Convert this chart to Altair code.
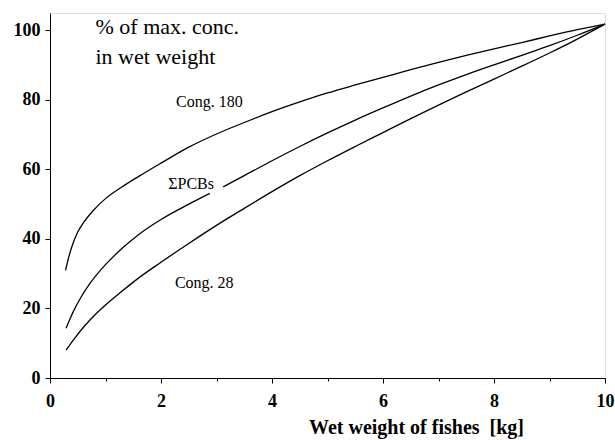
import altair as alt
import pandas as pd

# Cong. 180 (upper curve)
x_c180 = [0.28, 0.35, 0.42, 0.5, 0.6, 0.78, 1.0, 1.3, 1.6, 2.0, 2.5, 3.0, 3.5, 4.0, 4.5, 5.0, 5.5, 6.0, 6.5, 7.0, 7.5, 8.0, 8.5, 9.0, 9.5, 10.0]
y_c180 = [31.0, 35.5, 39.0, 42.0, 44.6, 48.2, 51.6, 55.0, 58.0, 61.8, 66.4, 70.2, 73.5, 76.6, 79.4, 82.0, 84.3, 86.5, 88.7, 90.8, 92.8, 94.7, 96.5, 98.4, 100.2, 101.8]

# Sum of PCBs (middle curve), interrupted under its label
x_pcb_a = [0.29, 0.35, 0.42, 0.55, 0.72, 1.0, 1.3, 1.6, 2.0, 2.5, 2.88]
y_pcb_a = [14.3, 16.6, 19.1, 23.0, 27.2, 32.6, 37.3, 41.3, 45.6, 50.0, 53.1]
x_pcb_b = [3.12, 3.5, 4.0, 4.5, 5.0, 5.5, 6.0, 6.5, 7.0, 7.5, 8.0, 8.5, 9.0, 9.5, 10.0]
y_pcb_b = [55.0, 58.2, 62.5, 66.6, 70.5, 74.2, 77.7, 81.1, 84.3, 87.3, 90.1, 92.8, 95.6, 98.6, 101.8]

# Cong. 28 (lower curve)
x_c28 = [0.29, 0.42, 0.55, 0.72, 1.0, 1.3, 1.6, 2.0, 2.5, 3.0, 3.5, 4.0, 4.5, 5.0, 5.5, 6.0, 6.5, 7.0, 7.5, 8.0, 8.5, 9.0, 9.5, 10.0]
y_c28 = [8.0, 10.9, 13.6, 16.7, 21.0, 25.0, 28.8, 33.3, 38.7, 43.9, 48.8, 53.6, 58.2, 62.5, 66.6, 70.6, 74.6, 78.5, 82.3, 86.0, 89.7, 93.5, 97.5, 101.8]

# curve labels
label_text = ["Cong. 180", "\u03a3PCBs", "Cong. 28"]
label_x = [2.27, 2.13, 2.25]
label_y = [77.9, 54.3, 25.9]
label_size = [16, 16, 16]

x_ticks = list(range(0, 11))
y_ticks = list(range(0, 101, 10))

rows = []
for seg, xs, ys in [("c180", x_c180, y_c180), ("pcb_a", x_pcb_a, y_pcb_a),
                    ("pcb_b", x_pcb_b, y_pcb_b), ("c28", x_c28, y_c28)]:
    for xv, yv in zip(xs, ys):
        rows.append({"x": xv, "y": yv, "seg": seg})
df = pd.DataFrame(rows)

lab = pd.DataFrame({"x": label_x, "y": label_y, "text": label_text, "size": label_size})

FONT = "Liberation Serif"

x_axis = alt.Axis(
    values=x_ticks,
    labelExpr="datum.value % 2 === 0 ? datum.label : ''",
    tickSize={"condition": {"test": "datum.value % 2 === 0", "value": 5}, "value": 3},
    labelFont=FONT, labelFontSize=18, labelFontWeight="bold", labelColor="black",
    labelPadding=9, labelFlush=False, labelOverlap=False,
    domainColor="black", tickColor="black", grid=False,
    title="Wet weight of fishes\u00a0 [kg]", titleFont=FONT, titleFontSize=20,
    titleFontWeight="bold", titleColor="black", titleAlign="center",
    titleBaseline="alphabetic", titleX=366, titleY=55,
)

y_axis = alt.Axis(
    values=y_ticks,
    labelExpr="datum.value % 20 === 0 ? datum.label : ''",
    tickSize={"condition": {"test": "datum.value % 20 === 0", "value": 5}, "value": 3},
    labelFont=FONT, labelFontSize=18, labelFontWeight="bold", labelColor="black",
    labelPadding=5, labelOverlap=False,
    domainColor="black", tickColor="black", grid=False,
    title=["% of max. conc.", "in wet weight"], titleFont=FONT, titleFontSize=22,
    titleFontWeight="normal", titleColor="black", titleAngle=0, titleAlign="left",
    titleBaseline="alphabetic", titleX=45, titleY=20, titleLineHeight=30,
)

lines = alt.Chart(df).mark_line(color="black", strokeWidth=1.3, interpolate="monotone").encode(
    x=alt.X("x:Q", scale=alt.Scale(domain=[0, 10], nice=False, zero=False), axis=x_axis),
    y=alt.Y("y:Q", scale=alt.Scale(domain=[0, 105], nice=False, zero=False), axis=y_axis),
    detail="seg:N",
)

labels = alt.Chart(lab).mark_text(font=FONT, align="left", baseline="alphabetic", color="black").encode(
    x="x:Q",
    y="y:Q",
    text="text:N",
    size=alt.Size("size:Q", scale=None, legend=None),
)

chart = alt.layer(lines, labels).properties(
    width=555, height=365,
    autosize=alt.AutoSizeParams(type="none"),
    padding={"left": 50, "top": 13, "right": 10, "bottom": 62},
).configure_view(strokeWidth=0).configure(background="white")

chart.save("out.html", embed_options={"renderer": "svg", "actions": False})
